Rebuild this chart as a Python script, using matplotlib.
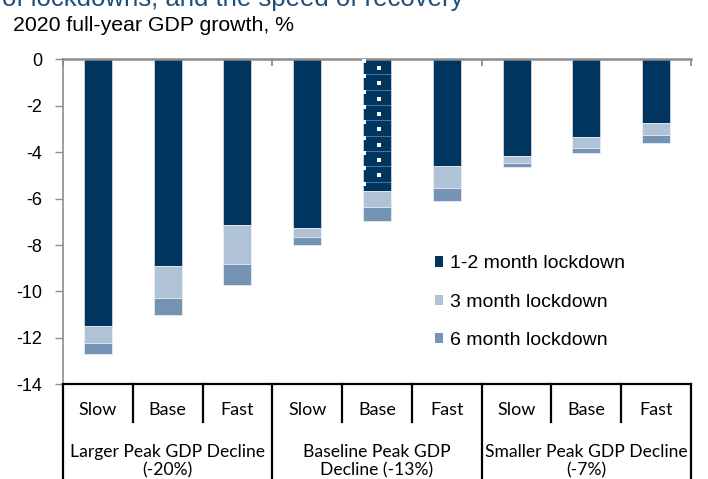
import numpy as np
import matplotlib
matplotlib.use("Agg")
import matplotlib.pyplot as plt
from matplotlib.patches import Patch

plt.rcParams['font.family'] = ['Liberation Sans', 'DejaVu Sans']

# Data: 2020 full-year GDP growth (%) by scenario, stacked by lockdown length
speeds = ['Slow', 'Base', 'Fast'] * 3
groups = ['Larger Peak GDP Decline\n(-20%)',
          'Baseline Peak GDP\nDecline (-13%)',
          'Smaller Peak GDP Decline\n(-7%)']
lock_1_2 = [-11.5, -8.9, -7.15, -7.25, -5.65, -4.6, -4.15, -3.35, -2.75]
lock_3 = [-0.7, -1.4, -1.65, -0.4, -0.7, -0.95, -0.3, -0.45, -0.5]
lock_6 = [-0.5, -0.7, -0.9, -0.35, -0.6, -0.55, -0.2, -0.25, -0.35]
series_names = ['1-2 month lockdown', '3 month lockdown', '6 month lockdown']
y_ticks = [0, -2, -4, -6, -8, -10, -12, -14]

dark = '#00355F'
light = '#B0C2D6'
mid = '#7593B5'
grey = '#8C8C8C'

fig = plt.figure(figsize=(7.08, 4.79), dpi=100)
ax = fig.add_axes([0.089, 0.1977, 0.887, 0.6781])

x = np.arange(len(speeds))
w = 0.4
ax.bar(x, lock_1_2, w, color=dark, edgecolor='#dfe6ee', linewidth=0.5, zorder=2)
ax.bar(x, lock_3, w, bottom=lock_1_2, color=light, edgecolor='#eef2f6',
       linewidth=0.5, zorder=2)
ax.bar(x, lock_6, w, bottom=np.add(lock_1_2, lock_3), color=mid,
       edgecolor='#eef2f6', linewidth=0.5, zorder=2)

# the odd dotted pattern on the baseline/base bar
i = 4
step = 0.66
ys_left = np.arange(-0.07, lock_1_2[i], -step)
ys_mid = np.arange(-0.37, lock_1_2[i], -step)
ys_line = np.arange(-0.64, lock_1_2[i], -step)
for yl in ys_line:
    ax.plot([i - 0.17, i + 0.18], [yl, yl], color='#4E7196', lw=0.8, zorder=3)
ax.scatter(np.full(len(ys_left), i - 0.18), ys_left, marker='s', s=7,
           color='white', linewidths=0, zorder=4)
ax.scatter(np.full(len(ys_mid), i + 0.035), ys_mid, marker='s', s=7,
           color='white', linewidths=0, zorder=4)

ax.set_xlim(-0.5, len(speeds) - 0.5)
ax.set_ylim(-14, 0)
ax.set_yticks(y_ticks)
ax.set_yticklabels([str(v) for v in y_ticks], fontsize=13)
ax.tick_params(axis='y', direction='out', length=6, width=1, color=grey, pad=9)

# zero line on top with small ticks at the group boundaries
bounds = [-0.5, 2.5, 5.5, 8.5]
ax.set_xticks(bounds)
ax.tick_params(axis='x', bottom=False, top=True, labelbottom=False,
               direction='in', length=5, width=1.3, color=grey)

ax.spines['right'].set_visible(False)
ax.spines['left'].set_color(grey)
ax.spines['left'].set_linewidth(1.2)
ax.spines['top'].set_color(grey)
ax.spines['top'].set_linewidth(1.8)
ax.spines['bottom'].set_color('black')
ax.spines['bottom'].set_linewidth(1.6)

# two-level category table under the axis
tr = ax.get_xaxis_transform()
for b in np.arange(-0.5, len(speeds), 1.0):
    if b in bounds:
        ax.plot([b, b], [0, -0.32], color='black', lw=1.6, transform=tr,
                clip_on=False)
    else:
        ax.plot([b, b], [0, -0.117], color='black', lw=1.6, transform=tr,
                clip_on=False)
for xi, s in zip(x, speeds):
    ax.text(xi, -0.079, s, ha='center', va='center', fontsize=13,
            family='Lato', transform=tr)
for gi, g in enumerate(groups):
    ax.text(gi * 3 + 1, -0.237, g, ha='center', va='center', fontsize=12.6,
            family='Lato', linespacing=1.23, transform=tr)

# legend
handles = [Patch(facecolor=c, edgecolor='none') for c in (dark, light, mid)]
ax.legend(handles, series_names, loc='upper left', bbox_to_anchor=(0.592, 0.397),
          frameon=False, fontsize=14, handlelength=0.43, handleheight=0.43,
          handletextpad=0.35, labelspacing=1.1, borderpad=0, borderaxespad=0)

# titles (top line is cut off in the original)
fig.text(2 / 708, 1 - 6 / 479, 'of lockdowns, and the speed of recovery',
         fontsize=18.5, color='#1F4E79', ha='left', va='baseline')
fig.text(12.7 / 708, 1 - 30.7 / 479, '2020 full-year GDP growth, %',
         fontsize=15.3, color='black', ha='left', va='baseline')

fig.savefig('out.png', dpi=100)
